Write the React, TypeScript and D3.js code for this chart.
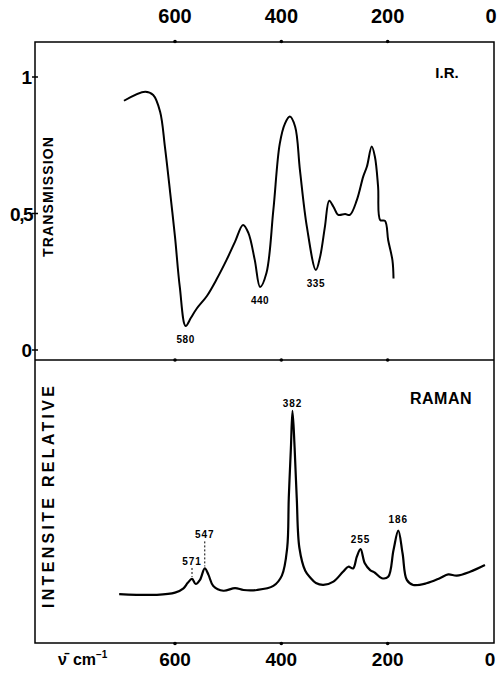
import React from 'react';
import * as d3 from 'd3';

// I.R. spectrum (transmission vs wavenumber, cm-1)
const irWavenumber = [696, 656, 641, 628, 619, 609, 600, 591, 580, 570, 559, 540, 522, 503, 487, 472, 462, 450, 440, 428, 415, 403, 393, 384, 374, 365, 352, 335, 327, 318, 310, 302, 293, 280, 271, 258, 246, 239, 230, 224, 218, 214, 205, 199, 191, 189];
const irTransmission = [0.913, 0.946, 0.934, 0.873, 0.745, 0.575, 0.414, 0.231, 0.088, 0.118, 0.152, 0.198, 0.258, 0.33, 0.397, 0.458, 0.429, 0.33, 0.231, 0.282, 0.513, 0.755, 0.83, 0.855, 0.818, 0.659, 0.452, 0.293, 0.342, 0.452, 0.547, 0.525, 0.495, 0.498, 0.495, 0.549, 0.635, 0.672, 0.745, 0.708, 0.598, 0.476, 0.473, 0.402, 0.328, 0.262];

// Raman spectrum (relative intensity, arbitrary units)
const ramanWavenumber = [705, 634, 600, 584, 576, 568, 561, 553, 544, 537, 528, 509, 487, 471, 446, 415, 399, 389, 386, 382, 379, 375, 371, 366, 355, 345, 335, 321, 302, 284, 274, 265, 258, 251, 243, 233, 224, 211, 199, 189, 180, 172, 164, 152, 127, 102, 86, 70, 45, 17];
const ramanIntensity = [10.8, 10.5, 11.4, 13.2, 15.5, 17.1, 15.0, 16.7, 21.5, 18.8, 14.2, 12.2, 13.3, 12.5, 12.5, 14.2, 18.5, 30, 50.8, 71.7, 87.1, 71.7, 50.8, 30, 20.5, 17.5, 15.4, 14.6, 16, 20.1, 22.2, 21.5, 26.4, 29.5, 23.6, 20.8, 19.7, 17.4, 18, 29.2, 37.2, 27.8, 16.7, 14.6, 15.3, 17.4, 19, 18.5, 20.1, 22.9];

const xTicks = [600, 400, 200, 0];
const irTicks = [1, 0.5, 0];
const irTickLabels = ['1', '0,5', '0'];
const irBands = [580, 440, 335];
const ramanBands = [568, 544, 379, 251, 180];
const ramanBandLabels = ['571', '547', '382', '255', '186'];

export default function App() {
  const W = 499, H = 673;
  const left = 35, right = 494, top = 42, mid = 360, bottom = 643;
  const font = '"Liberation Sans", Arial, sans-serif';

  const x = d3.scaleLinear().domain([600, 0]).range([175, 494]);
  const yIr = d3.scaleLinear().domain([0, 1]).range([350, 77]);
  const yRa = d3.scaleLinear().domain([0, 100]).range([620, 380]);

  const irLine = d3.line<number>()
    .x((_, i) => x(irWavenumber[i]))
    .y(d => yIr(d))
    .curve(d3.curveCatmullRom.alpha(0.5));
  const raLine = d3.line<number>()
    .x((_, i) => x(ramanWavenumber[i]))
    .y(d => yRa(d))
    .curve(d3.curveCatmullRom.alpha(0.5));

  const irAt = (w: number) => irTransmission[irWavenumber.indexOf(w)];
  const raAt = (w: number) => ramanIntensity[ramanWavenumber.indexOf(w)];
  // how far above the peak each raman label sits; the first two use dashed leaders
  const raise = [14, 30, 4, 6, 8];

  return (
    <svg width={W} height={H} style={{ position: 'absolute', left: 0, top: 0, background: '#fff' }}
      fontFamily={font} fontWeight="bold">
      {/* frame */}
      <rect x={left} y={top} width={right - left} height={bottom - top} fill="none" stroke="#000" strokeWidth={1.5} />
      <line x1={left} x2={right} y1={mid} y2={mid} stroke="#000" strokeWidth={1.5} />

      {/* x ticks: top, middle, bottom */}
      {xTicks.filter(t => t > 0).map(t => (
        <g key={t}>
          <circle cx={x(t)} cy={top - 0.5} r={1.8} fill="#000" />
          <circle cx={x(t)} cy={mid} r={1.8} fill="#000" />
          <circle cx={x(t)} cy={bottom + 0.5} r={1.8} fill="#000" />
        </g>
      ))}
      {xTicks.map(t => (
        <g key={'l' + t}>
          <text x={t === 0 ? x(t) - 3 : x(t)} y={23} fontSize={20} textAnchor="middle">{t}</text>
          <text x={t === 0 ? x(t) - 4 : x(t)} y={666} fontSize={19} textAnchor="middle">{t}</text>
        </g>
      ))}
      <text x={58} y={665} fontSize={16}>
        ν̄<tspan dx={6}>cm</tspan><tspan dy={-7} fontSize={10}>−1</tspan>
      </text>

      {/* I.R. y axis */}
      {irTicks.map((t, i) => (
        <g key={t}>
          <line x1={left - 3} x2={left + 3} y1={yIr(t)} y2={yIr(t)} stroke="#000" strokeWidth={1.5} />
          <text x={left - 3} y={yIr(t) + 7} fontSize={19} textAnchor="end"
            letterSpacing={i === 1 ? -1.5 : 0}>{irTickLabels[i]}</text>
        </g>
      ))}
      <text transform="translate(53,197) rotate(-90)" fontSize={14} textAnchor="middle"
        textLength={120} lengthAdjust="spacing">TRANSMISSION</text>
      <text transform="translate(54,497) rotate(-90)" fontSize={16} textAnchor="middle"
        textLength={222} lengthAdjust="spacing">INTENSITE  RELATIVE</text>

      {/* panel titles */}
      <text x={447} y={78} fontSize={15} textAnchor="middle">I.R.</text>
      <text x={441} y={404} fontSize={16} textAnchor="middle" letterSpacing={0.5}>RAMAN</text>

      {/* curves */}
      <path d={irLine(irTransmission) || ''} fill="none" stroke="#000" strokeWidth={2} strokeLinejoin="round" />
      <path d={raLine(ramanIntensity) || ''} fill="none" stroke="#000" strokeWidth={2.2} strokeLinejoin="round" />

      {/* I.R. band labels */}
      {irBands.map(b => (
        <text key={b} x={x(b)} y={yIr(irAt(b)) + 17} fontSize={10} textAnchor="middle" letterSpacing={0.5}>{b}</text>
      ))}

      {/* Raman band labels */}
      {ramanBands.map((b, i) => {
        const py = yRa(raAt(b));
        const ty = py - raise[i];
        return (
          <g key={b}>
            {i < 2 && (
              <line x1={x(b)} x2={x(b)} y1={ty + 3} y2={py - 2} stroke="#000" strokeWidth={1} strokeDasharray="2,2" />
            )}
            <text x={x(b)} y={ty} fontSize={10} textAnchor="middle" letterSpacing={1}>{ramanBandLabels[i]}</text>
          </g>
        );
      })}
    </svg>
  );
}
